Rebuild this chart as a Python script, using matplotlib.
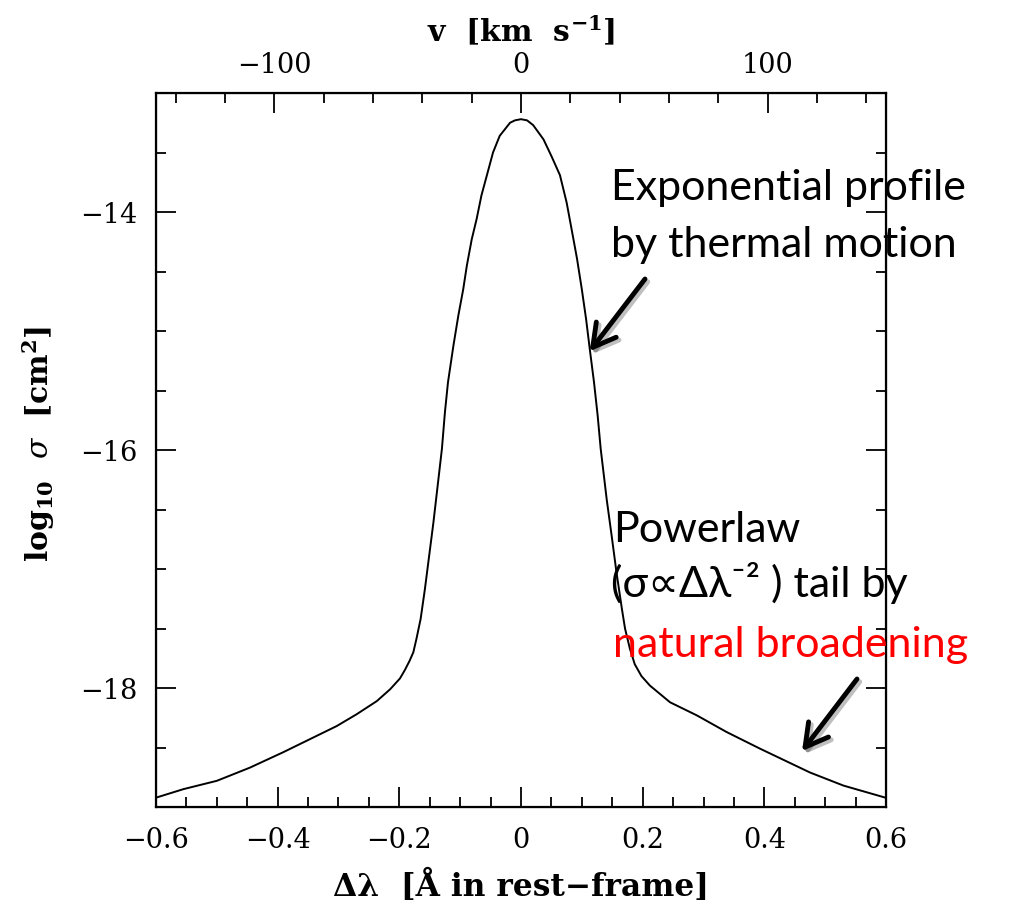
import numpy as np
import matplotlib.pyplot as plt
import matplotlib.patheffects as pe
from matplotlib.ticker import MultipleLocator, FuncFormatter

# cross section: offset from line centre [A] and log10 sigma [cm^2]
dlam = [-0.599, -0.555, -0.500, -0.446, -0.391, -0.347, -0.303, -0.270, -0.237,
        -0.215, -0.199, -0.191, -0.183, -0.177, -0.172, -0.165, -0.158, -0.151,
        -0.144, -0.137, -0.130, -0.125, -0.120, -0.111, -0.103, -0.095, -0.089,
        -0.081, -0.073, -0.065, -0.056, -0.046, -0.035, -0.018, -0.010, 0.0,
        0.010, 0.020, 0.037, 0.050, 0.064, 0.075, 0.083, 0.092, 0.100, 0.107,
        0.113, 0.120, 0.126, 0.131, 0.141, 0.149, 0.157, 0.166, 0.171, 0.179,
        0.187, 0.198, 0.212, 0.245, 0.289, 0.338, 0.393, 0.475, 0.530, 0.598]
log_sigma = [-18.92, -18.85, -18.78, -18.67, -18.54, -18.43, -18.32, -18.22, -18.11,
             -18.01, -17.92, -17.85, -17.77, -17.70, -17.59, -17.42, -17.17, -16.89,
             -16.61, -16.30, -15.99, -15.68, -15.43, -15.12, -14.87, -14.65, -14.45,
             -14.23, -14.06, -13.86, -13.69, -13.50, -13.36, -13.25, -13.23, -13.22,
             -13.23, -13.27, -13.39, -13.53, -13.69, -13.92, -14.14, -14.39, -14.65, -14.90,
             -15.15, -15.43, -15.71, -15.99, -16.42, -16.72, -17.03, -17.34, -17.50, -17.67,
             -17.80, -17.90, -17.98, -18.12, -18.23, -18.37, -18.51, -18.71, -18.82, -18.92]

lam0 = 1215.67          # Lya rest wavelength [A]
c_kms = 299792.458

# where the two arrows point (data coords)
thermal_pt = (0.113, -15.17)
natural_pt = (0.462, -18.53)

plt.rcParams['font.family'] = 'DejaVu Serif'
plt.rcParams['mathtext.fontset'] = 'dejavuserif'

W, H = 1009, 904
fig = plt.figure(figsize=(W / 100, H / 100), dpi=100)
ax = fig.add_axes([156 / W, 1 - 808 / H, 730 / W, 714 / H])

ax.plot(dlam, log_sigma, color='black', lw=1.4)
ax.set_xlim(-0.6, 0.6)
ax.set_ylim(-19, -13)


def fmt(v, pos):
    v = round(v, 3)
    if v == 0:
        return '0'
    return ('%g' % v).replace('-', '\u2212')


ax.xaxis.set_major_locator(MultipleLocator(0.2))
ax.xaxis.set_minor_locator(MultipleLocator(0.05))
ax.yaxis.set_major_locator(MultipleLocator(2))
ax.yaxis.set_minor_locator(MultipleLocator(0.5))
ax.xaxis.set_major_formatter(FuncFormatter(fmt))
ax.yaxis.set_major_formatter(FuncFormatter(fmt))
ax.tick_params(which='both', direction='in', top=False, right=True,
               labelsize=19.5, width=1.3, pad=13.5)
ax.tick_params(which='major', length=14.4)
ax.tick_params(which='minor', length=7.5)
for s in ax.spines.values():
    s.set_linewidth(1.6)

# velocity axis on top
ax2 = ax.twiny()
vmax = 0.6 / lam0 * c_kms
ax2.set_xlim(-vmax, vmax)
ax2.xaxis.set_major_locator(MultipleLocator(100))
ax2.xaxis.set_minor_locator(MultipleLocator(20))
ax2.xaxis.set_major_formatter(FuncFormatter(fmt))
ax2.tick_params(which='both', direction='in', labelsize=19.5, width=1.3, pad=11)
ax2.tick_params(which='major', length=14.4)
ax2.tick_params(which='minor', length=7.5)

ax.set_xlabel('\u0394\u03bb  [\u00c5 in rest\u2212frame]', fontsize=22.5, fontweight='bold')
ax.xaxis.set_label_coords(0.5, -0.086)
ax.set_ylabel(r'log$_{\mathregular{10}}$  $\sigma$  [cm$^{\mathregular{2}}$]', fontsize=21.5, fontweight='bold')
ax.yaxis.set_label_coords(-0.136, 0.51)
ax2.set_xlabel(r'v  [km  s$^{\mathregular{-1}}$]', fontsize=21.5, fontweight='bold')
ax2.xaxis.set_label_coords(0.5, 1.074)

# annotations
sans = ['Lato', 'DejaVu Sans']
fs = 31
fig.text(611 / W, 1 - 200 / H, 'Exponential profile', fontsize=fs, family=sans, va='baseline')
fig.text(611 / W, 1 - 257 / H, 'by thermal motion', fontsize=fs, family=sans, va='baseline')
fig.text(613 / W, 1 - 542 / H, 'Powerlaw', fontsize=fs, family=sans, va='baseline')
fig.text(611 / W, 1 - 597 / H, '(\u03c3\u221d\u0394\u03bb\u207b\u00b2 ) tail by', fontsize=fs,
         family=sans, va='baseline')
fig.text(613 / W, 1 - 657 / H, 'natural broadening', fontsize=fs, family=sans,
         va='baseline', color='red')

arrow = dict(arrowstyle='->,head_length=0.8,head_width=0.45', lw=3.5, color='black',
             mutation_scale=20, shrinkA=0, shrinkB=0,
             path_effects=[pe.SimpleLineShadow(offset=(2, -2), alpha=0.25), pe.Normal()])
ax.annotate('', xy=thermal_pt, xycoords='data', xytext=(645 / W, 1 - 280 / H),
            textcoords='figure fraction', arrowprops=arrow)
ax.annotate('', xy=natural_pt, xycoords='data', xytext=(857 / W, 1 - 680 / H),
            textcoords='figure fraction', arrowprops=arrow)

fig.savefig('out.png', dpi=100)
